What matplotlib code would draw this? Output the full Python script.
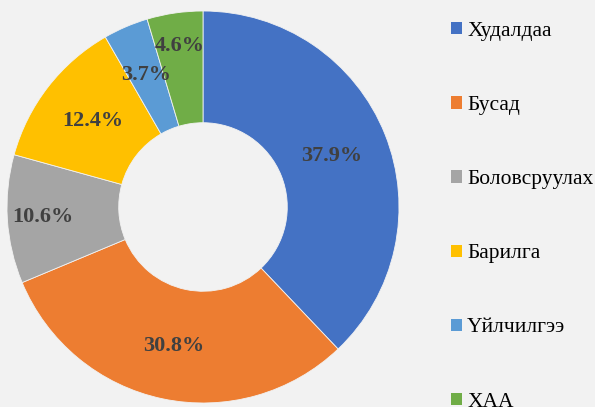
import numpy as np
import matplotlib.pyplot as plt
from matplotlib.patches import Patch

sectors = ["Худалдаа", "Бусад", "Боловсруулах", "Барилга", "Үйлчилгээ", "ХАА"]
shares = [37.9, 30.8, 10.6, 12.4, 3.7, 4.6]
colors = ["#4472C4", "#ED7D31", "#A5A5A5", "#FFC000", "#5B9BD5", "#70AD47"]
# radial placement of each percentage label (fraction of outer radius)
label_dist = [0.705, 0.725, 0.82, 0.714, 0.735, 0.83]

bg = "#F2F2F2"
plt.rcParams['font.family'] = ['Liberation Serif', 'DejaVu Serif']

fig = plt.figure(figsize=(5.95, 4.07), dpi=100)
fig.patch.set_facecolor(bg)

# pie centre (203, 207) px, outer radius 196 px
cx, cy, r = 203, 207, 196
ax = fig.add_axes([(cx - r) / 595, (407 - cy - r) / 407, 2 * r / 595, 2 * r / 407])
ax.set_facecolor(bg)

wedges, texts, autotexts = ax.pie(
    shares, colors=colors, startangle=90, counterclock=False,
    autopct=lambda p: f"{p:.1f}%", pctdistance=0.715,
    wedgeprops=dict(width=0.57, edgecolor=bg, linewidth=0.6),
    textprops=dict(fontsize=16, fontweight='bold', color='#404040'))

for w, t, d in zip(wedges, autotexts, label_dist):
    ang = np.deg2rad((w.theta1 + w.theta2) / 2)
    t.set_position((d * np.cos(ang), d * np.sin(ang)))

ax.set_xlim(-1, 1)
ax.set_ylim(-1, 1)
ax.set_aspect('equal')
ax.axis('off')

handles = [Patch(facecolor=c, edgecolor='none') for c in colors]
fig.legend(handles, sectors, loc='upper left', bbox_to_anchor=(451 / 595, 1 - 22 / 407),
           frameon=False, fontsize=15.5, handlelength=0.5, handleheight=0.5,
           handletextpad=0.25, labelspacing=2.56, borderaxespad=0, borderpad=0,
           labelcolor='#000000')

fig.savefig("out.png", dpi=100, facecolor=bg)
